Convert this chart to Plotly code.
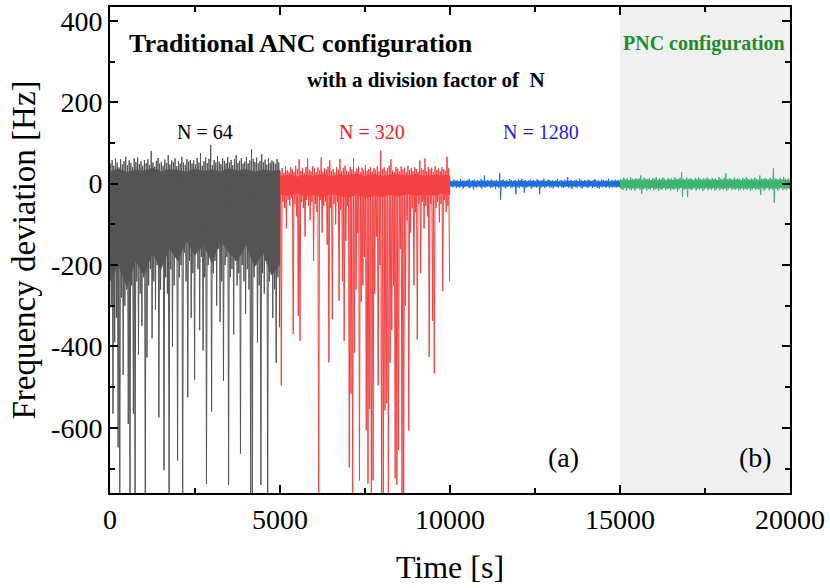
import plotly.graph_objects as go

# ---------------- data ----------------
# Each configuration: 100 local maxima and 100 local minima of the
# frequency deviation [Hz], one pair per 50 s window.
seg_start = [0, 5000, 10000, 15000]
seg_names = ["N = 64", "N = 320", "N = 1280", "PNC"]
seg_colors = ["#555555", "#f44141", "#1e6fdc", "#3cb371"]
window_s = 50
core_step_s = 250

n64_max = [50, 58, 44, 62, 52, 40, 60, 47, 55, 66, 45, 57, 51, 40, 62, 53, 64, 48, 55, 44,
           58, 50, 60, 46, 80, 52, 42, 56, 63, 50, 54, 44, 59, 51, 70, 47, 57, 53, 62, 43,
           55, 49, 66, 52, 46, 60, 54, 58, 50, 57, 47, 63, 52, 75, 44, 55, 65, 50, 61, 95,
           45, 58, 52, 68, 54, 48, 62, 56, 50, 65, 52, 58, 45, 60, 70, 51, 56, 63, 49, 54,
           66, 50, 57, 84, 61, 53, 64, 50, 56, 72, 52, 59, 47, 63, 51, 57, 54, 49, 60, 52]
n64_min = [-300, -565, -390, -330, -648, -800, -280, -470, -300, -260,
           -590, -800, -250, -565, -800, -240, -420, -270, -350, -230,
           -800, -427, -250, -210, -380, -240, -310, -200, -574, -260,
           -190, -704, -230, -270, -800, -210, -400, -250, -180, -680,
           -230, -200, -800, -170, -240, -525, -190, -330, -220, -482,
           -160, -210, -360, -180, -410, -230, -737, -200, -170, -560,
           -220, -190, -300, -160, -340, -240, -484, -200, -180, -740,
           -230, -210, -370, -190, -250, -220, -663, -200, -240, -320,
           -210, -260, -800, -780, -230, -200, -390, -250, -740, -220,
           -270, -190, -800, -240, -210, -330, -260, -440, -230, -353]

n320_max = [30, 38, 26, 42, 33, 28, 40, 35, 29, 44, 36, 60, 31, 39, 27, 41, 62, 34, 30, 43,
            37, 28, 40, 33, 64, 29, 38, 35, 42, 58, 31, 36, 27, 40, 34, 61, 30, 38, 44, 32,
            29, 41, 35, 63, 30, 37, 42, 28, 39, 33, 45, 31, 36, 40, 29, 38, 34, 43, 30, 81,
            36, 40, 32, 38, 44, 60, 33, 29, 41, 37, 30, 42, 35, 39, 28, 44, 33, 38, 31, 40,
            36, 29, 57, 38, 34, 62, 30, 41, 35, 39, 28, 43, 33, 37, 30, 40, 35, 32, 66, 38]
n320_min = [-496, -45, -60, -110, -40, -55, -35, -369, -50, -80,
            -325, -386, -45, -60, -130, -40, -55, -90, -45, -190,
            -50, -70, -800, -40, -120, -55, -45, -150, -439, -60,
            -333, -50, -100, -45, -288, -65, -240, -386, -140, -55,
            -697, -516, -800, -415, -260, -120, -729, -290, -250, -180,
            -606, -737, -553, -800, -729, -270, -130, -496, -200, -800,
            -800, -557, -540, -800, -440, -360, -250, -724, -740, -655,
            -160, -800, -800, -300, -90, -606, -120, -60, -250, -70,
            -383, -50, -220, -45, -110, -55, -80, -426, -50, -337,
            -466, -60, -45, -95, -50, -264, -40, -70, -55, -240]

n1280_max = [8, 6, 10, 7, 9, 5, 11, 7, 8, 6, 9, 12, 7, 8, 10, 6, 9, 7, 11, 8,
             20, 7, 9, 6, 10, 8, 7, 9, 6, 26, 8, 10, 7, 9, 6, 11, 8, 7, 9, 6,
             10, 8, 12, 7, 9, 6, 8, 10, 7, 9, 6, 11, 8, 7, 9, 12, 6, 8, 10, 7,
             9, 6, 8, 11, 7, 9, 6, 10, 8, 16, 7, 9, 6, 8, 10, 7, 12, 8, 6, 9,
             7, 10, 8, 6, 9, 11, 7, 8, 6, 10, 9, 7, 8, 12, 6, 9, 7, 10, 8, 9]
n1280_min = [-7, -9, -6, -11, -8, -10, -7, -12, -8, -6, -9, -11, -7, -14, -8, -10, -6, -9, -12, -7,
             -10, -8, -6, -11, -9, -7, -13, -8, -10, -39, -7, -9, -12, -8, -6, -10, -9, -7, -26, -8,
             -11, -7, -9, -22, -10, -8, -6, -12, -9, -7, -10, -8, -26, -9, -7, -11, -8, -6, -10, -9,
             -12, -7, -8, -10, -6, -9, -11, -8, -7, -10, -9, -13, -7, -8, -10, -6, -9, -12, -8, -7,
             -10, -9, -6, -11, -8, -7, -10, -12, -8, -9, -7, -10, -6, -11, -8, -9, -7, -10, -8, -9]

pnc_max = [12, 10, 15, 11, 13, 9, 16, 12, 10, 14, 11, 13, 20, 10, 15, 12, 11, 14, 9, 13,
           12, 16, 10, 13, 11, 15, 12, 9, 14, 11, 13, 10, 16, 12, 11, 14, 28, 12, 10, 15,
           11, 13, 12, 9, 14, 11, 16, 12, 10, 13, 11, 15, 12, 10, 14, 11, 13, 9, 16, 12,
           10, 14, 25, 11, 13, 12, 10, 15, 11, 13, 12, 9, 14, 11, 16, 12, 10, 13, 11, 15,
           12, 10, 20, 13, 11, 14, 12, 10, 15, 11, 38, 13, 12, 10, 14, 11, 16, 12, 10, 13]
pnc_min = [-13, -15, -11, -17, -12, -14, -16, -12, -18, -13, -11, -15, -25, -14, -12, -17, -13, -15, -11, -16,
           -14, -12, -18, -13, -15, -11, -16, -14, -12, -17, -13, -15, -12, -19, -14, -11, -33, -15, -13, -33,
           -12, -16, -14, -11, -17, -13, -15, -12, -18, -14, -11, -16, -13, -15, -12, -17, -14, -11, -16, -13,
           -15, -12, -18, -14, -11, -16, -13, -15, -12, -17, -14, -11, -16, -13, -15, -12, -18, -14, -11, -16,
           -13, -15, -28, -12, -17, -14, -11, -16, -13, -15, -47, -12, -18, -14, -11, -16, -13, -15, -12, -14]

# dense (solid-looking) core of each trace, every 250 s (21 values per segment)
n64_core_hi = [30, 36, 28, 34, 32, 38, 30, 35, 33, 29, 36, 31, 34, 30, 37, 32, 35, 29, 34, 31, 33]
n64_core_lo = [-240, -200, -255, -190, -225, -170, -210, -160, -190, -140, -175, -150, -195, -140,
               -170, -190, -150, -205, -170, -225, -200]
n320_core_hi = [18, 22, 17, 21, 19, 23, 18, 22, 20, 24, 19, 23, 18, 21, 22, 19, 23, 18, 21, 20, 19]
n320_core_lo = [-26, -30, -24, -31, -27, -33, -25, -30, -34, -28, -35, -29, -33, -27, -31, -25,
                -30, -26, -29, -24, -27]
n1280_core_hi = [5, 5, 6, 5, 5, 6, 5, 5, 6, 5, 5, 5, 6, 5, 5, 6, 5, 5, 5, 6, 5]
n1280_core_lo = [-6, -6, -7, -6, -6, -7, -6, -6, -7, -6, -6, -6, -7, -6, -6, -7, -6, -6, -6, -7, -6]
pnc_core_hi = [8, 8, 9, 8, 8, 9, 8, 8, 9, 8, 8, 8, 9, 8, 8, 9, 8, 8, 8, 9, 8]
pnc_core_lo = [-9, -10, -9, -10, -9, -10, -10, -9, -10, -9, -10, -9, -10, -9, -10, -9, -10, -9, -10, -9, -10]

seg_max = [n64_max, n320_max, n1280_max, pnc_max]
seg_min = [n64_min, n320_min, n1280_min, pnc_min]
seg_core_hi = [n64_core_hi, n320_core_hi, n1280_core_hi, pnc_core_hi]
seg_core_lo = [n64_core_lo, n320_core_lo, n1280_core_lo, pnc_core_lo]

x_ticks = [0, 5000, 10000, 15000, 20000]
y_ticks = [-600, -400, -200, 0, 200, 400]

FONT = "Liberation Serif"

fig = go.Figure()

for t0, name, col, hi, lo, chi, clo in zip(seg_start, seg_names, seg_colors,
                                            seg_max, seg_min, seg_core_hi, seg_core_lo):
    # solid core band
    cx = [t0 + core_step_s * k for k in range(len(chi))]
    fig.add_trace(go.Scatter(x=cx + cx[::-1], y=chi + clo[::-1], mode="lines", fill="toself",
                             fillcolor=col, line=dict(color=col, width=0.5),
                             hoverinfo="skip", showlegend=False))
    # extremes per window
    xs, ys = [], []
    for i, (a, b) in enumerate(zip(hi, lo)):
        xs += [t0 + window_s * i + window_s * 0.25, t0 + window_s * i + window_s * 0.75]
        ys += [a, b]
    fig.add_trace(go.Scatter(x=xs, y=ys, mode="lines", name=name,
                             line=dict(color=col, width=1, simplify=False), showlegend=False))

# shaded PNC region
fig.add_shape(type="rect", xref="x", yref="paper", x0=15000, x1=20000, y0=0, y1=1,
              fillcolor="#f0f0f0", line=dict(width=0), layer="below")

# annotations positioned in pixel -> paper coords
L, R, T, B = 110, 792, 5, 493
def px(xp): return (xp - L) / (R - L)
def py(yp): return (B - yp) / (B - T)

def txt(x, y, s, size, color="black", bold=False):
    fig.add_annotation(xref="paper", yref="paper", x=px(x), y=py(y),
                       text=(f"<b>{s}</b>" if bold else s),
                       showarrow=False, font=dict(family=FONT, size=size, color=color),
                       xanchor="center", yanchor="middle")

txt(302, 42, "Traditional ANC configuration", 26, bold=True)
txt(427, 78, "with a division factor of  N", 21, bold=True)
txt(205, 131, "N = 64", 20)
txt(373, 131, "N = 320", 20, color="#f01c1c")
txt(542, 131, "N = 1280", 20, color="#1c1cf0")
txt(706, 42, "PNC configuration", 20, color="#1e8c2c", bold=True)
txt(565, 457, "(a)", 28)
txt(757, 457, "(b)", 28)

tick_font = dict(family=FONT, size=28, color="black")
axis_common = dict(showline=True, linecolor="black", linewidth=2, mirror="ticks",
                   ticks="inside", ticklen=8, tickwidth=2, tickcolor="black",
                   showgrid=False, zeroline=False, tickfont=tick_font)

fig.update_xaxes(range=[0, 20000], tickvals=x_ticks, ticktext=[str(v) for v in x_ticks],
                 minor=dict(dtick=2500, ticklen=5, tickwidth=2, tickcolor="black", ticks="inside"),
                 title=dict(text="Time [s]", font=dict(family=FONT, size=32, color="black"), standoff=22),
                 **axis_common)
fig.update_yaxes(range=[-760, 434], tickvals=y_ticks, ticktext=[str(v) for v in y_ticks],
                 minor=dict(dtick=100, ticklen=5, tickwidth=2, tickcolor="black", ticks="inside"),
                 title=dict(text="Frequency deviation [Hz]", font=dict(family=FONT, size=33, color="black"), standoff=6),
                 **axis_common)

fig.update_layout(width=830, height=588, margin=dict(l=L, r=830 - R, t=T, b=588 - B),
                  font=dict(family=FONT, size=28, color="black"),
                  plot_bgcolor="white", paper_bgcolor="white")

fig.write_html("out.html", config={"displayModeBar": False},
               post_script="document.body.style.margin='0px';")
